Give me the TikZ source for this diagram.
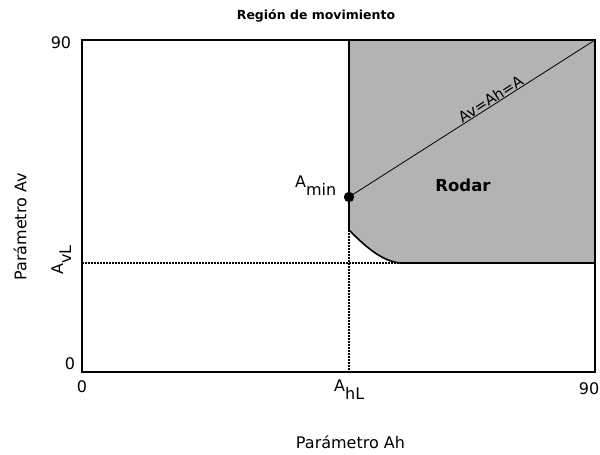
\documentclass[tikz,border=0pt]{standalone}
\usepackage{fontspec}
\setmainfont{DejaVu Sans}
\definecolor{regiongray}{RGB}{179,179,179}
\newcommand{\lowsub}[2]{#1\raisebox{-0.5em}{#2}}
\begin{document}
\begin{tikzpicture}[x=1pt,y=-1pt,
  lbl/.style={font=\fontsize{16}{18}\selectfont, inner sep=0pt},
  frame/.style={line width=1.6pt},
  dotline/.style={line width=1.5pt, dash pattern=on 1.5pt off 1.5pt},
]
\useasboundingbox (0,0) rectangle (600,455);
% coordinates
\coordinate (bl) at (82,372);
\coordinate (tr) at (595,40);
\coordinate (gtl) at (349,40);
\coordinate (cs) at (349,230);
\coordinate (ce) at (400,263);
\coordinate (gbr) at (595,263);
\coordinate (amin) at (349,197);
\coordinate (hl) at (349,372);
\coordinate (vl) at (82,263);
\coordinate (vle) at (437,263);
% gray region
\fill[regiongray] (gtl) -- (tr) -- (gbr) -- (ce) .. controls (380,261) and (362,243) .. (cs) -- cycle;
% dotted lines
\draw[dotline] (vl) -- (vle);
\draw[dotline] (cs) -- (hl);
\draw[line width=1.6pt] (gtl) -- (cs) .. controls (362,243) and (380,261) .. (ce) -- (gbr);
% frame
\draw[frame] (bl) rectangle (tr);
% diagonal
\draw[line width=0.8pt] (amin) -- (tr) node[pos=0.59, sloped, above=0.5pt, lbl, font=\fontsize{15}{17}\selectfont] (diag) {Av=Ah=A};
\fill (amin) circle (5.2pt);
% labels
\node[font=\bfseries\fontsize{12.5}{15}\selectfont, inner sep=0pt] (title) at (316,16) {Región de movimiento};
\node[lbl] (y90) at (61,43) {90};
\node[lbl] (y0) at (70,364) {0};
\node[lbl] (x0) at (82,387) {0};
\node[lbl] (x90) at (589,389) {90};
\node[lbl, anchor=base west] (ahl) at (334,391.5) {\lowsub{A}{hL}};
\node[lbl, anchor=base west, rotate=90] (avl) at (63,275) {\lowsub{A}{vL}};
\node[lbl, anchor=base west] (aminl) at (295,187.5) {\lowsub{A}{min}};
\node[font=\bfseries\fontsize{16.5}{18}\selectfont, inner sep=0pt] (rodar) at (463,185) {Rodar};
\node[lbl] (xlab) at (350.5,442) {Parámetro Ah};
\node[lbl, rotate=90] (ylab) at (20,227) {Parámetro Av};
\end{tikzpicture}
\end{document}
